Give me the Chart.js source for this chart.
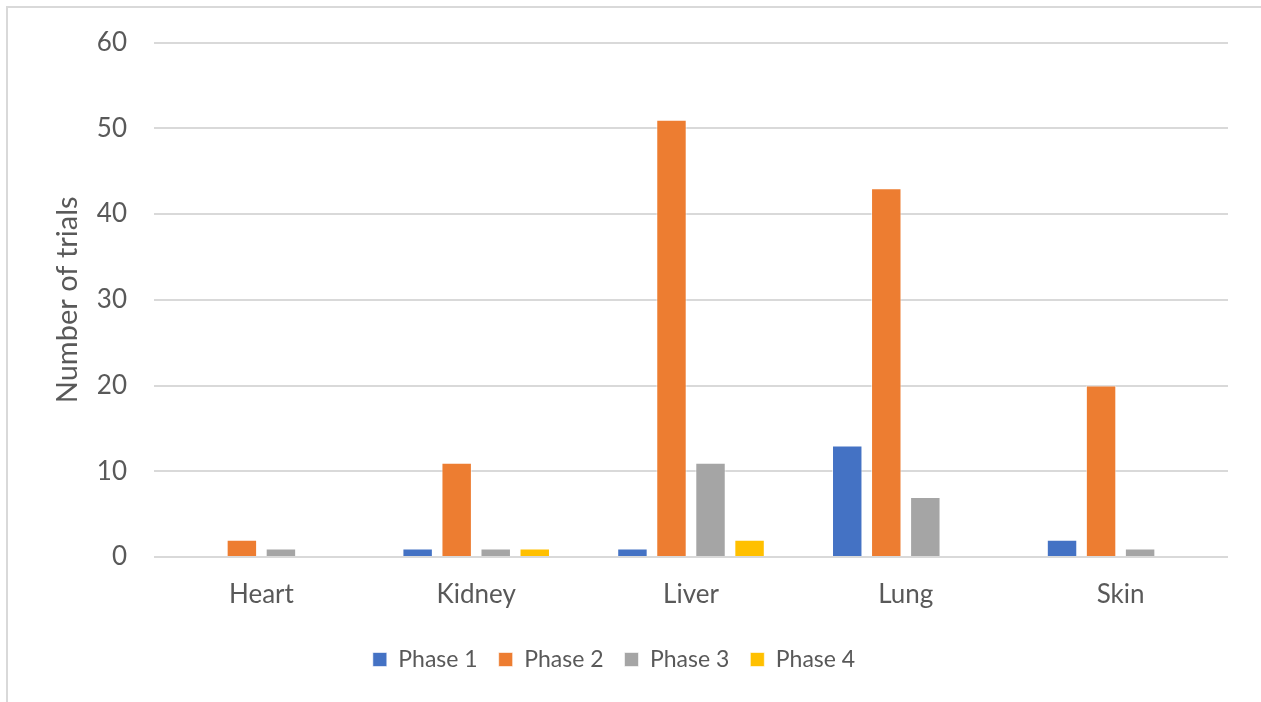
<!DOCTYPE html>
<html>
<head>
<meta charset="utf-8">
<script src="https://cdn.jsdelivr.net/npm/chart.js@4.4.1/dist/chart.umd.min.js"></script>
<style>
  html, body { margin: 0; padding: 0; background: #ffffff; overflow: hidden; }
  #frame {
    position: absolute; left: 6px; top: 6px; width: 1300px; height: 720px;
    border-left: 2px solid #d9d9d9; border-top: 2px solid #d9d9d9;
  }
  #wrap { position: absolute; left: 0; top: 0; width: 1261px; height: 702px; }
</style>
</head>
<body>
<div id="frame"></div>
<div id="wrap"><canvas id="chart" width="1261" height="702"></canvas></div>
<script>
// Organ categories and trial counts per clinical phase
const organs = ["Heart", "Kidney", "Liver", "Lung", "Skin"];
const phase1 = [0, 1, 1, 13, 2];
const phase2 = [2, 11, 51, 43, 20];
const phase3 = [1, 1, 11, 7, 1];
const phase4 = [0, 1, 2, 0, 0];
const yTicks = [0, 10, 20, 30, 40, 50, 60];

const FONT = "Lato, 'Liberation Sans', sans-serif";
const TEXT = "#595959";
const GRID = "#d9d9d9";

function series(label, data, color) {
  return {
    label, data,
    backgroundColor: color,
    borderColor: "rgba(255,255,255,0.6)",
    borderWidth: 1,
    categoryPercentage: 0.727,
    barPercentage: 0.78
  };
}

new Chart(document.getElementById("chart"), {
  type: "bar",
  data: {
    labels: organs,
    datasets: [
      series("Phase 1", phase1, "#4472c4"),
      series("Phase 2", phase2, "#ed7d31"),
      series("Phase 3", phase3, "#a5a5a5"),
      series("Phase 4", phase4, "#ffc000")
    ]
  },
  options: {
    responsive: false,
    animation: false,
    layout: { padding: { left: 0, right: 33, top: 42, bottom: 21 } },
    plugins: {
      tooltip: { enabled: false },
      legend: {
        position: "bottom",
        labels: {
          font: { family: FONT, size: 23 },
          color: TEXT,
          boxWidth: 14,
          boxHeight: 14,
          padding: 21
        }
      }
    },
    scales: {
      x: {
        grid: { display: false, drawTicks: false },
        border: { display: false },
        ticks: { font: { family: FONT, size: 26 }, color: TEXT, padding: 22 },
        afterFit(scale) { scale.height = 70; }
      },
      y: {
        min: 0, max: 60,
        afterBuildTicks(scale) { scale.ticks = yTicks.map(v => ({ value: v })); },
        grid: { color: GRID, lineWidth: 2, drawTicks: false },
        border: { display: false },
        ticks: { font: { family: FONT, size: 26 }, color: TEXT, padding: 27 },
        title: {
          display: true, text: "Number of trials",
          font: { family: FONT, size: 29 }, color: TEXT,
          padding: { top: 50, bottom: 0 }
        },
        afterFit(scale) { scale.width = 154; }
      }
    }
  }
});
</script>
</body>
</html>
